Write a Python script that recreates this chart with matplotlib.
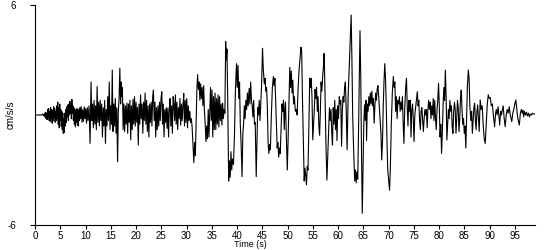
import matplotlib
matplotlib.use("Agg")
import matplotlib.pyplot as plt

plt.rcParams['font.family'] = ['Liberation Sans', 'DejaVu Sans']

time_s = [
 0, 1.2, 1.5, 1.7, 1.9, 2.0,
 2.1, 2.2, 2.3, 2.4, 2.5, 2.6, 2.7, 2.8, 2.9, 3.0, 3.1, 3.2, 3.3, 3.4, 3.5, 3.6, 3.7, 3.8, 3.9, 4.0,
 4.1, 4.2, 4.3, 4.4, 4.5, 4.6, 4.7, 4.8, 4.9, 5.0, 5.1, 5.2, 5.3, 5.4, 5.5, 5.6, 5.7, 5.8, 5.9, 6.0, 6.1, 6.2, 6.3,
 6.4, 6.5, 6.6, 6.7, 6.8, 6.9, 7.0, 7.1, 7.2, 7.3, 7.4, 7.5, 7.6, 7.7, 7.8, 7.9, 8.0, 8.1, 8.2, 8.3, 8.4, 8.5, 8.6, 8.7, 8.8,
 8.9, 9.0, 9.15, 9.3, 9.45, 9.6, 9.75, 9.9, 10.05, 10.2, 10.35, 10.5,
 10.7, 10.9, 11.1, 11.25, 11.4, 11.55, 11.7, 11.85, 12.0, 12.15, 12.3, 12.45, 12.6, 12.75, 12.9, 13.05, 13.2, 13.35, 13.5, 13.65, 13.8,
 13.95, 14.1, 14.25, 14.4, 14.55, 14.7, 14.85, 15.0, 15.15, 15.3, 15.45, 15.6, 15.75, 15.9, 16.05, 16.2, 16.35, 16.5, 16.65,
 16.8, 16.95, 17.05, 17.2, 17.3, 17.45, 17.6, 17.75, 17.9, 18.05, 18.2, 18.35, 18.5, 18.65, 18.8, 18.95, 19.1, 19.25, 19.4, 19.55,
 19.7, 19.85, 20.0, 20.15, 20.3, 20.45, 20.6, 20.75, 20.9, 21.05, 21.2, 21.35, 21.5, 21.65, 21.8, 21.95, 22.1, 22.25, 22.4, 22.55,
 22.7, 22.85, 23.0, 23.15, 23.3, 23.45, 23.6, 23.75, 23.9, 24.05, 24.2, 24.35, 24.5, 24.65, 24.8, 24.95, 25.1, 25.25, 25.4, 25.55,
 25.7, 25.85, 26.0, 26.15, 26.3, 26.45,
 26.6, 26.75, 26.9, 27.05, 27.2, 27.35, 27.5, 27.65, 27.8, 27.95, 28.1, 28.25, 28.4, 28.55, 28.7, 28.85, 29.0, 29.15, 29.3, 29.45,
 29.6, 29.75, 29.9, 30.05, 30.2, 30.35, 30.5, 30.65, 30.8, 30.95, 31.1, 31.3, 31.45, 31.6, 31.75, 31.9, 32.05, 32.2, 32.35, 32.5,
 32.65, 32.8, 32.95, 33.1, 33.25, 33.4, 33.55, 33.7, 33.85, 34.0, 34.15, 34.3, 34.45, 34.6, 34.75, 34.9, 35.05, 35.2, 35.35, 35.5,
 35.65, 35.8, 35.95, 36.1, 36.25, 36.4, 36.55, 36.7, 36.85, 37.0, 37.15, 37.3, 37.45, 37.6, 37.75, 37.9, 38.0, 38.15, 38.35, 38.5,
 38.65, 38.8, 38.95, 39.1, 39.3, 39.5, 39.7, 39.9, 40.05, 40.2, 40.35, 40.5, 40.65, 40.8, 41.0, 41.15, 41.3, 41.45, 41.6, 41.75,
 41.9, 42.05, 42.2, 42.4, 42.55, 42.7, 42.85, 43.0, 43.15, 43.3, 43.45, 43.6, 43.8,
 43.95, 44.1, 44.25, 44.4, 44.55, 44.7, 44.85, 45.05, 45.2, 45.4, 45.55, 45.7, 45.85, 46.0, 46.15, 46.3, 46.45, 46.6, 46.8, 47.0,
 47.2, 47.35, 47.5, 47.65, 47.8, 47.95, 48.1, 48.25, 48.4, 48.55, 48.75, 48.9, 49.05, 49.2, 49.35, 49.5, 49.6, 49.75, 49.95, 50.1,
 50.3, 50.45, 50.6, 50.75, 50.9, 51.05, 51.2, 51.35, 51.55, 51.75, 51.9, 52.1, 52.3, 52.5, 52.65, 52.8, 52.95, 53.1, 53.3, 53.45,
 53.6, 53.75, 53.9, 54.05, 54.2, 54.4, 54.55, 54.7, 54.85, 55.0, 55.15, 55.3, 55.45, 55.6, 55.75, 55.9, 56.05, 56.2, 56.35, 56.5,
 56.65, 56.8, 56.95, 57.1, 57.25, 57.4, 57.6, 57.8, 58.0, 58.15, 58.3, 58.45, 58.6, 58.75, 58.9, 59.05, 59.2, 59.35, 59.5, 59.65,
 59.8, 59.95, 60.1, 60.25, 60.4, 60.55, 60.7, 60.85, 61.0, 61.15, 61.3, 61.45, 61.6, 61.8, 62.0, 62.2, 62.4, 62.6, 62.75, 62.9,
 63.1, 63.3, 63.45, 63.6, 63.75, 63.9, 64.05, 64.2, 64.35, 64.5, 64.65, 64.8, 64.95, 65.1, 65.25, 65.4, 65.55, 65.65, 65.8, 65.95,
 66.1, 66.25, 66.4, 66.55, 66.7, 66.85, 67.0, 67.15, 67.3, 67.45, 67.6, 67.75, 67.9, 68.05, 68.2, 68.35, 68.5, 68.65, 68.8, 68.95,
 69.1, 69.25, 69.4, 69.55, 69.7, 69.85, 70.0, 70.2, 70.35, 70.55, 70.75, 70.95, 71.1, 71.25, 71.4, 71.55, 71.7, 71.85, 72.0, 72.15,
 72.3, 72.45, 72.6, 72.75, 72.9, 73.05, 73.2, 73.4, 73.55, 73.7, 73.85, 74.0, 74.15, 74.3, 74.45, 74.6, 74.75, 74.9, 75.05, 75.2,
 75.4, 75.55, 75.7, 75.85, 76.0, 76.15, 76.3, 76.45, 76.6, 76.75, 76.9, 77.05, 77.2, 77.35, 77.5, 77.65, 77.8, 77.95, 78.1, 78.25,
 78.4, 78.55, 78.7, 78.85, 79.0, 79.15, 79.3, 79.45, 79.6, 79.75, 79.9, 80.05, 80.2, 80.35, 80.5, 80.65, 80.8, 80.95, 81.1, 81.25,
 81.4, 81.55, 81.7, 81.85, 82.0, 82.15, 82.3, 82.45, 82.6, 82.75, 82.9, 83.05, 83.2, 83.35, 83.5, 83.65, 83.8, 83.95,
 84.1, 84.25, 84.4, 84.55, 84.7, 84.85, 85.0, 85.15, 85.3, 85.45, 85.6, 85.8, 85.95, 86.1, 86.3, 86.45, 86.6, 86.75, 86.9, 87.05,
 87.2, 87.35, 87.5, 87.65, 87.8, 87.95,
 88.15, 88.35, 88.55, 88.75, 88.95, 89.15, 89.35, 89.55, 89.75, 89.95, 90.15, 90.35, 90.55, 90.75, 91.0, 91.2, 91.35, 91.5, 91.7, 91.85,
 92.0, 92.2, 92.35, 92.55, 92.7, 92.9, 93.1, 93.3, 93.5, 93.7, 93.9, 94.1, 94.4, 94.6, 94.8, 95.0, 95.2, 95.4, 95.6, 95.9,
 96.1, 96.3, 96.45, 96.6, 96.75, 96.9, 97.1, 97.3, 97.5, 97.7, 97.9, 98.1, 98.3, 98.5, 98.7, 99.0,
]

accel_cms2 = [
 0, 0, 0.05, -0.05, 0.1, -0.1,
 0.15, -0.2, 0.1, -0.25, 0.3, -0.1, 0.35, -0.3, 0.2, -0.35, 0.4, -0.2, 0.3, -0.45, 0.25, -0.3, 0.45, -0.15, 0.35, -0.4,
 0.2, -0.3, 0.5, -0.2, 0.7, -0.5, 0.4, -0.7, 0.6, -0.3, 0.3, -0.6, 0.2, -0.8, 0.1, -1.0, -0.2, -0.95, 0.1, -0.6, 0.3, -0.4, 0.45,
 -0.1, 0.55, -0.3, 0.6, 0.0, 0.75, 0.1, 0.6, -0.2, 0.85, 0.1, 0.5, -0.3, 0.4, -0.5, 0.3, -0.65, 0.2, -0.4, 0.35, -0.55, 0.2, -0.6, 0.3, -0.3,
 0.4, -0.2, 0.45, -0.4, 0.3, -0.35, 0.45, -0.2, 0.35, -0.45, 0.4, -0.3,
 0.5, -1.55, 1.8, -0.3, 0.6, -0.7, 0.8, -0.5, 0.5, -0.8, 1.55, -0.4, 0.7, -0.6, 0.8, -0.3, 0.6, -1.2, 0.4, -0.6, 0.8,
 -1.55, 0.3, -0.6, 1.0, -0.3, 1.8, -0.8, 0.5, -0.5, 2.45, -0.9, 0.6, -0.6, 0.9, -1.0, 0.4, -2.55, 0.2, 0.9,
 2.55, 0.6, 1.8, 1.0, 1.5, -0.8, 0.6, -0.9, 0.5, -0.5, 0.65, -1.0, 0.6, -0.4, 0.8, -1.36, 0.5, -0.8, 0.85, -0.5,
 1.0, -0.6, 0.7, -0.4, 0.4, -1.64, 0.6, -0.5, 1.1, -0.2, 0.6, -1.0, 0.7, -0.3, 1.2, -0.5, 0.8, -0.9, 0.5, -1.2,
 0.6, -0.4, 0.7, -0.6, 1.0, 1.36, -0.3, 0.7, -1.2, 0.4, -0.8, 0.5, -0.6, 0.7, -0.3, 0.9, 1.27, -0.5, 0.6, -1.2,
 0.3, -0.4, 0.4, -0.73, 0.36, -1.2,
 0.4, 0.9, -0.6, 0.5, -1.0, 1.0, 0.6, -0.3, 1.1, -0.5, 0.7, -0.8, 0.4, -0.2, 0.9, -0.55, 0.6, -0.3, 0.5, 1.18,
 -0.6, 0.8, -0.4, 0.9, -0.7, 0.5, -0.3, 0.2, -0.4, -0.2, -0.6, -1.8, -2.6, -1.5, -2.2, -0.5, 1.36, 2.2, 1.4, 1.8,
 0.8, 1.7, 0.9, 1.5, 0.5, 1.6, 0.2, -0.5, -1.45, -0.6, -1.3, 0.3, -1.2, 0.2, 1.5, -0.3, 1.36, -1.2, 1.0, -0.8,
 1.2, -0.8, 0.9, -0.5, 1.1, -0.65, 1.0, -0.3, 0.6, -0.55, 0.65, -0.2, 0.3, 0.1, 4.0, 3.0, 3.6, 1.0, -3.6, -2.5,
 -3.4, -2.0, -3.0, -2.4, -2.7, -1.0, 1.5, 2.8, 1.5, 2.7, 0.9, 1.8, -0.5, -1.5, -3.36, -1.0, -0.5, 0.5, -0.2, 0.8,
 0.3, 1.2, 0.5, 1.45, 0.6, 1.8, 0.8, 0.5, -0.1, 0.8, -0.5, -0.4, -3.36,
 -1.5, 0.4, 0.0, 0.8, -0.3, 0.6, 1.5, 3.64, 2.5, 1.7, 2.0, 1.3, 1.5, 0.5, -1.5, -2.1, -1.6, -1.9, 0.0, 1.5,
 2.1, 1.6, 2.0, 0.8, -0.6, -1.8, -1.5, -2.3, -1.8, -2.1, -0.5, 0.6, 0.2, 0.8, -0.8, 0.4, 0.7, -1.0, -3.0, -1.5,
 1.0, 2.6, 1.5, 2.4, 1.2, 1.9, 0.6, 1.0, 0.2, 0.3, 0.0, 1.5, 2.5, 3.2, 3.7, 3.5, 1.0, -1.0, -3.6, -2.9,
 -3.3, -3.8, -2.8, -3.0, -1.0, 2.0, 1.5, 2.0, 0.9, -1.36, -0.5, 0.3, 1.4, 0.9, 1.5, 0.2, 1.0, -0.6, -1.1, 0.2,
 1.8, 1.3, 2.1, 2.6, 3.36, 1.5, -1.5, -3.55, -2.0, -1.0, 0.4, -0.3, 0.3, -0.9, -1.64, 0.4, -0.5, 0.8, -0.8, 0.3,
 -1.4, 0.5, -0.2, 1.0, 0.6, 0.8, -1.7, 0.2, 1.0, 0.7, 1.5, 1.8, 0.5, -1.9, 1.0, 2.5, 4.0, 5.45, 3.0, 0.0,
 -2.0, -3.6, -3.0, -3.7, -3.1, -3.5, -1.0, 2.0, 4.6, 2.0, -2.0, -5.36, -3.0, -0.5, 0.55, -0.3, 0.8, -1.4, 0.6, 0.2,
 1.0, 0.5, 1.2, 0.6, 1.3, 0.5, 0.9, -0.45, 0.5, 1.2, 0.8, 1.4, 1.6, 1.0, 0.3, -0.3, -1.0, -2.45, -1.5, 0.5,
 1.8, 2.8, 2.0, 0.5, -1.5, -3.0, -3.5, -4.1, -3.0, -0.5, 1.2, 2.1, 1.5, 1.8, 0.2, 1.0, -0.2, 0.8, 0.6, 1.0,
 0.2, 0.7, 0.3, 1.0, -0.5, -1.55, 0.3, 1.5, 2.0, 0.5, -0.6, 0.8, 0.2, 0.8, -1.2, 0.3, 0.6, -0.2, -1.45, 0.0,
 0.5, 0.9, 1.27, 0.5, 0.8, -0.3, -0.8, 0.2, 0.4, -0.3, -0.9, -0.2, 0.3, 0.0, 0.3, -0.7, 0.3, 0.8, 0.3, 0.7,
 -0.2, 0.5, 0.0, 0.9, -0.3, 0.8, -0.2, -0.8, 0.3, 0.8, 1.73, 0.5, -1.2, -0.5, -2.1, -1.0, 0.5, 1.5, 0.8, 2.45,
 1.0, -1.36, -0.5, 0.3, -0.2, 0.8, 0.2, 0.5, -0.6, -1.0, 0.2, 0.7, 0.3, -1.0, -0.2, 0.8, 0.4, -0.9,
 -0.2, 0.9, 1.36, 0.3, -0.5, -0.2, -1.0, -0.6, -1.8, -0.3, 1.5, 2.45, 2.0, 0.5, -0.3, 0.2, -1.0, -0.3, 0.4, 0.64,
 -0.3, -0.8, 0.2, 0.55, -0.2, -0.9,
 0.82, 0.3, 0.5, -0.6, -1.3, -1.55, -0.5, 0.6, 1.1, 0.9, 0.95, 0.5, 0.6, 0.0, -0.64, 0.1, 0.3, 0.0, 0.45, 0.0,
 -0.55, 0.2, 0.0, 0.3, 0.5, -0.2, -0.64, 0.0, 0.3, 0.1, 0.45, 0.0, -0.36, 0.1, 0.3, 0.6, 0.82, 0.3, -0.2, -0.55,
 0.1, 0.3, 0.1, 0.25, -0.1, 0.2, 0.0, 0.15, -0.05, 0.1, -0.1, 0.05, 0.0, 0.1, 0.05, 0.05,
]

x_ticks = list(range(0, 100, 5))
y_ticks = [-6, 6]

fig = plt.figure(figsize=(5.5, 2.5), dpi=100)
ax = fig.add_axes([35/550, 25/250, 500/550, 220/250])
ax.plot(time_s, accel_cms2, color='black', lw=0.8)
ax.set_xlim(0, 99)
ax.set_ylim(-6, 6)
ax.set_xticks(x_ticks)
ax.set_xticklabels([str(t) for t in x_ticks])
ax.set_yticks(y_ticks)
ax.set_yticklabels([str(v) for v in y_ticks])
for s in ['top', 'right']:
    ax.spines[s].set_visible(False)
for s in ['left', 'bottom']:
    ax.spines[s].set_linewidth(0.8)
ax.tick_params(axis='x', direction='out', length=3, width=0.8, pad=1, labelsize=7)
ax.tick_params(axis='y', direction='out', length=3.5, width=0.8, pad=10, labelsize=7)
ax.set_xlabel('Time (s)', fontsize=6.5)
ax.xaxis.set_label_coords(0.43, -0.068)
ax.set_ylabel('cm/s/s', fontsize=7)
ax.yaxis.set_label_coords(-0.038, 0.5)
fig.savefig('out.png', dpi=100)
